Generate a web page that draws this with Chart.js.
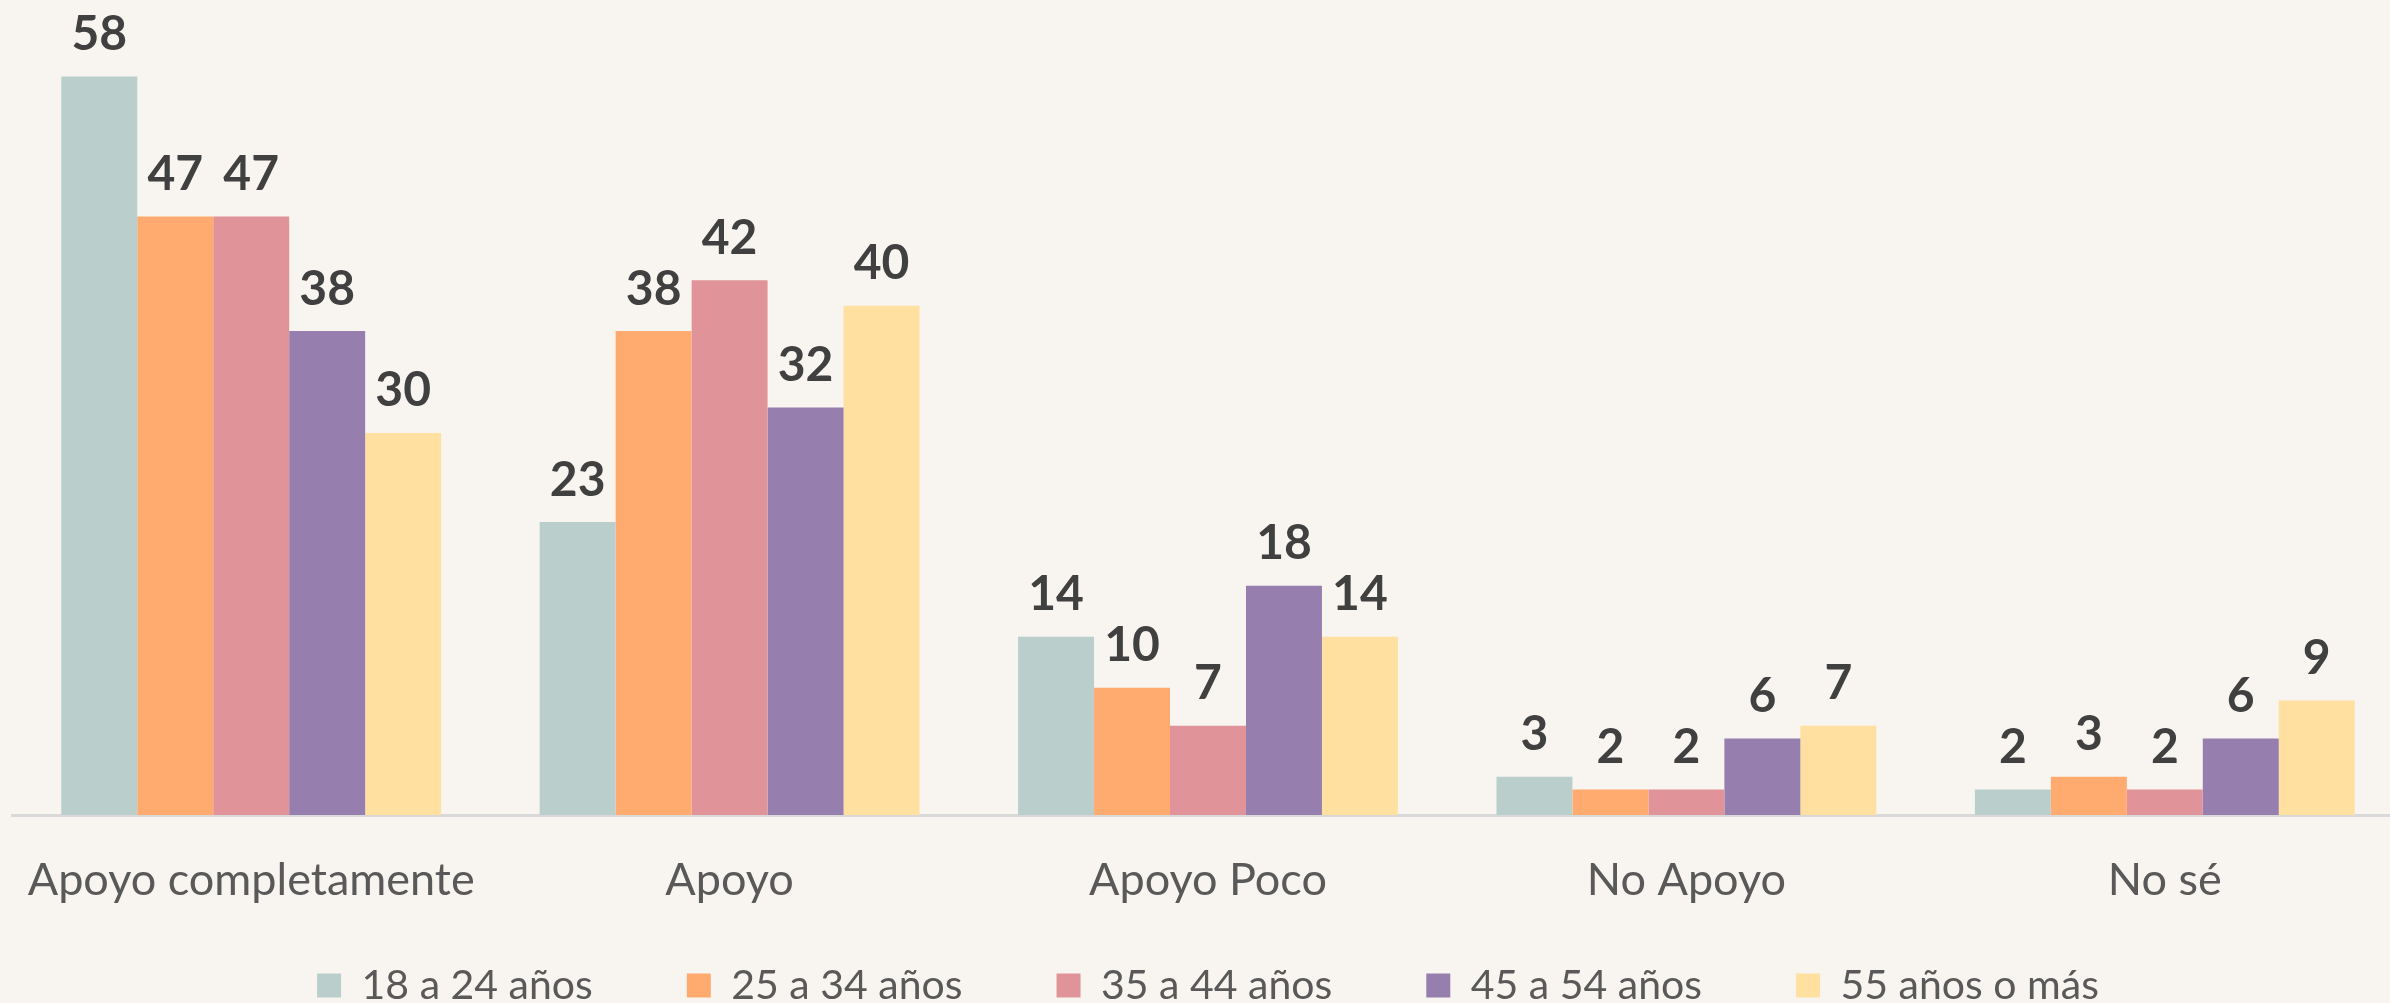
<!DOCTYPE html>
<html lang="es">
<head>
<meta charset="utf-8">
<title>Apoyo por grupo de edad</title>
<script src="https://cdn.jsdelivr.net/npm/chart.js@4.4.1/dist/chart.umd.min.js"></script>
<style>
  html, body { margin: 0; padding: 0; background: #f8f5f0; overflow: hidden; }
  /* plot runs a little past the right edge of the window, like the original */
  #wrap { position: relative; width: 2404px; height: 1003px; }
</style>
</head>
<body>
<div id="wrap"><canvas id="ageChart"></canvas></div>
<script>
const categories = ["Apoyo completamente", "Apoyo", "Apoyo Poco", "No Apoyo", "No sé"];
const ageGroups = ["18 a 24 años", "25 a 34 años", "35 a 44 años", "45 a 54 años", "55 años o más"];
const age18to24 = [58, 23, 14, 3, 2];
const age25to34 = [47, 38, 10, 2, 3];
const age35to44 = [47, 42, 7, 2, 2];
const age45to54 = [38, 32, 18, 6, 6];
const age55plus = [30, 40, 14, 7, 9];
const colors = ["#bacfcc", "#ffab6f", "#e0949a", "#967eae", "#ffe0a0"];

const seriesValues = [age18to24, age25to34, age35to44, age45to54, age55plus];

// numbers above the bars
const valueLabels = {
  id: "valueLabels",
  afterDatasetsDraw(chart) {
    const ctx = chart.ctx;
    ctx.save();
    ctx.font = "bold 48px Lato";
    ctx.fillStyle = "#404040";
    ctx.textAlign = "center";
    ctx.textBaseline = "middle";
    chart.data.datasets.forEach(function (ds, i) {
      chart.getDatasetMeta(i).data.forEach(function (bar, j) {
        ctx.fillText(ds.data[j], bar.x, bar.y - 42);
      });
    });
    ctx.restore();
  },
};

new Chart(document.getElementById("ageChart"), {
  type: "bar",
  data: {
    labels: categories,
    datasets: seriesValues.map(function (values, i) {
      return {
        label: ageGroups[i],
        data: values,
        backgroundColor: colors[i],
        borderWidth: 0,
        categoryPercentage: 0.794,
        barPercentage: 1.0,
      };
    }),
  },
  options: {
    responsive: true,
    maintainAspectRatio: false,
    animation: false,
    layout: { padding: { left: 12, right: 0, top: 0, bottom: 0 } },
    plugins: {
      tooltip: { enabled: false },
      legend: {
        position: "bottom",
        maxHeight: 132,
        labels: {
          boxWidth: 24,
          boxHeight: 24,
          padding: 94,
          color: "#595959",
          font: { family: "Lato", size: 41 },
        },
      },
    },
    scales: {
      x: {
        // transparent ticks only keep room between the axis and the legend
        grid: { color: "rgba(0,0,0,0)", drawOnChartArea: false, tickLength: 240 },
        border: { display: true, color: "#d9d9d9", width: 3 },
        ticks: {
          mirror: true,
          padding: -92,
          color: "#595959",
          font: { family: "Lato", size: 45 },
        },
      },
      y: {
        display: false,
        min: 0,
        max: 64,
      },
    },
  },
  plugins: [valueLabels],
});
</script>
</body>
</html>
